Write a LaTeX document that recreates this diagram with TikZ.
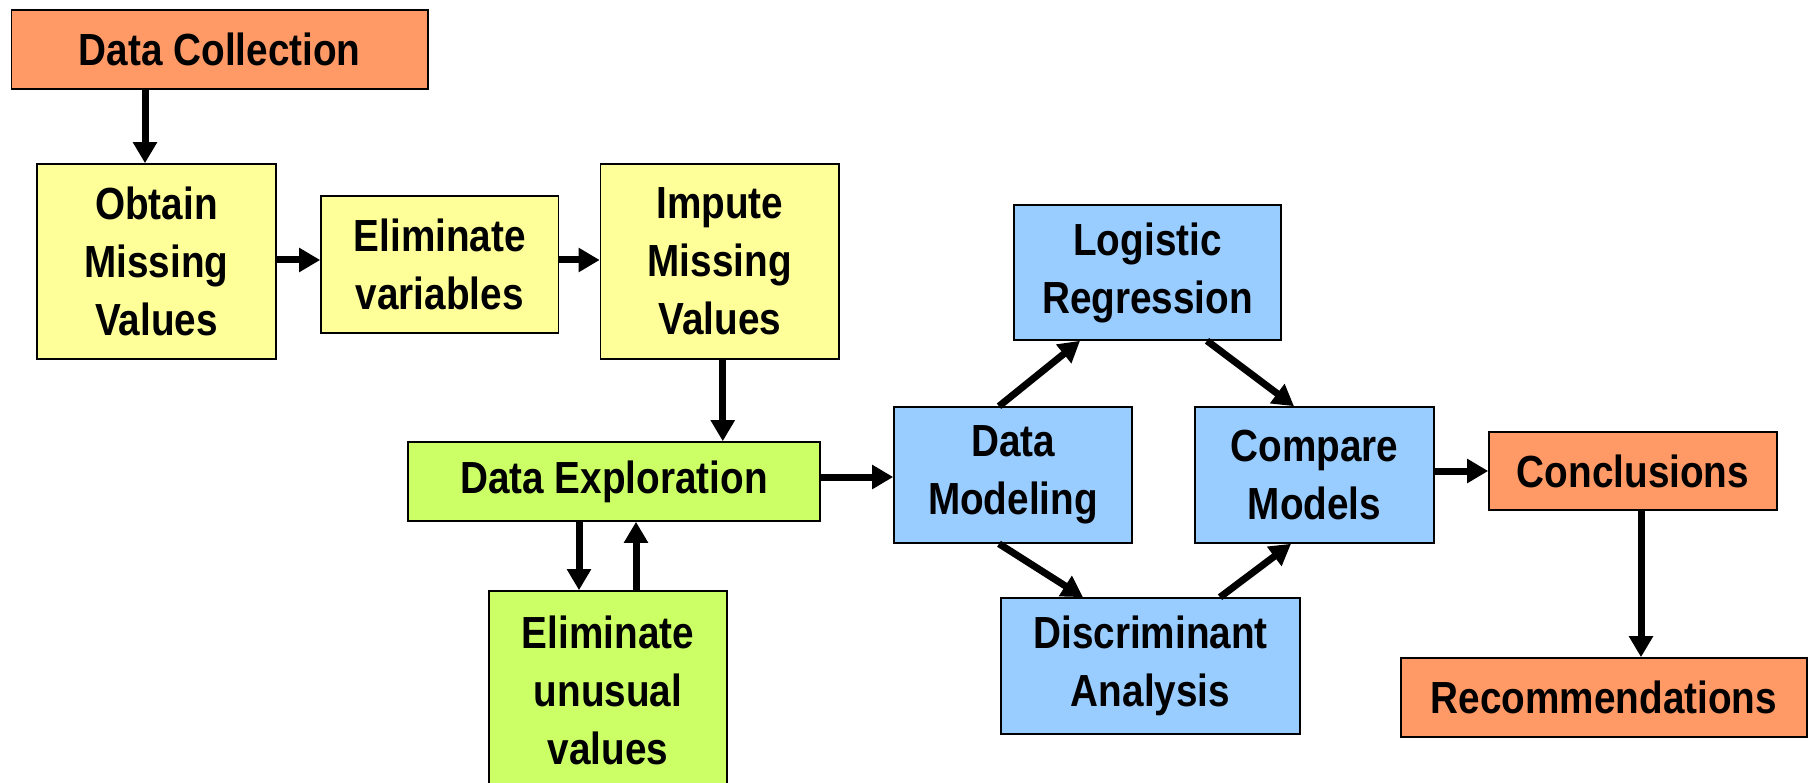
\documentclass[tikz,border=0pt]{standalone}
\usepackage{fontspec}
\setmainfont{Liberation Sans}[FakeStretch=0.86]
\usepackage{tikz}
\usetikzlibrary{arrows.meta}
\definecolor{stageorange}{HTML}{FF9966}
\definecolor{stageyellow}{HTML}{FFFF99}
\definecolor{stagegreen}{HTML}{CCFF66}
\definecolor{stageblue}{HTML}{99CCFF}
\tikzset{
  stage/.style={
    draw,
    line width=1.6pt,
    inner sep=0pt,
    align=center,
    font=\fontsize{45}{58}\selectfont\bfseries
  },
  orange stage/.style={stage, fill=stageorange},
  yellow stage/.style={stage, fill=stageyellow},
  green stage/.style={stage, fill=stagegreen},
  blue stage/.style={stage, fill=stageblue}
}

\begin{document}
\begin{tikzpicture}[x=1pt, y=-1pt, >={Triangle[length=21pt,width=23pt]}]
 \useasboundingbox (0,0) rectangle (1811,783);
 \node[orange stage, minimum width=416.5pt, minimum height=79pt] (collect) at (219.75,49.5) {Data Collection};
 \node[yellow stage, minimum width=239pt, minimum height=195pt] (obtain) at (156.5,261.5) {Obtain\\Missing\\Values};
 \node[yellow stage, minimum width=237.5pt, minimum height=137pt] (elimvar) at (439.75,264.5) {Eliminate\\variables};
 \node[yellow stage, minimum width=238.5pt, minimum height=195pt] (impute) at (719.75,261.5) {Impute\\Missing\\Values};
 \node[green stage, minimum width=412pt, minimum height=79pt] (explore) at (614,481.5) {Data Exploration};
 \node[green stage, minimum width=238pt, minimum height=198pt] (unusual) at (608,690) {Eliminate\\unusual\\values};
 \node[blue stage, minimum width=238pt, minimum height=136pt] (model) at (1013,475) {Data\\Modeling};
 \node[blue stage, minimum width=267pt, minimum height=135pt] (logit) at (1147.5,272.5) {Logistic\\Regression};
 \node[blue stage, minimum width=299pt, minimum height=136pt] (discrim) at (1150.5,666) {Discriminant\\Analysis};
 \node[blue stage, minimum width=239pt, minimum height=136pt] (compare) at (1314.5,475) {Compare\\Models};
 \node[orange stage, minimum width=288pt, minimum height=78pt] (concl) at (1633,471) {Conclusions};
 \node[orange stage, minimum width=406pt, minimum height=79pt] (recom) at (1604,697.5) {Recommendations};
 \path[->, line width=7pt]
  ([xshift=-11.5pt]collect.south -| obtain.north) edge ([xshift=-11.5pt]obtain.north)
  ([yshift=4.5pt]obtain.east |- elimvar.west) edge ([yshift=4.5pt]elimvar.west)
  ([yshift=4.5pt]elimvar.east) edge ([yshift=4.5pt]impute.west |- elimvar.east)
  ([xshift=3pt]impute.south) edge ([xshift=3pt]impute.south |- explore.north)
  ([xshift=-29pt]unusual.north |- explore.south) edge ([xshift=-29pt]unusual.north)
  ([xshift=28pt]unusual.north) edge ([xshift=28pt]unusual.north |- explore.south)
  ([yshift=-2pt]model.west -| explore.east) edge ([yshift=-2pt]model.west)
  ([xshift=-14pt]model.north) edge ([xshift=-67.5pt]logit.south)
  ([xshift=59.5pt]logit.south) edge ([xshift=-20.5pt]compare.north)
  ([xshift=-14pt]model.south) edge ([xshift=-67.5pt]discrim.north)
  ([xshift=69.5pt]discrim.north) edge ([xshift=-23.5pt]compare.south)
  (compare.east |- concl.west) edge (concl.west)
  ([xshift=8pt]concl.south) edge ([xshift=8pt]concl.south |- recom.north);
\end{tikzpicture}
\end{document}
